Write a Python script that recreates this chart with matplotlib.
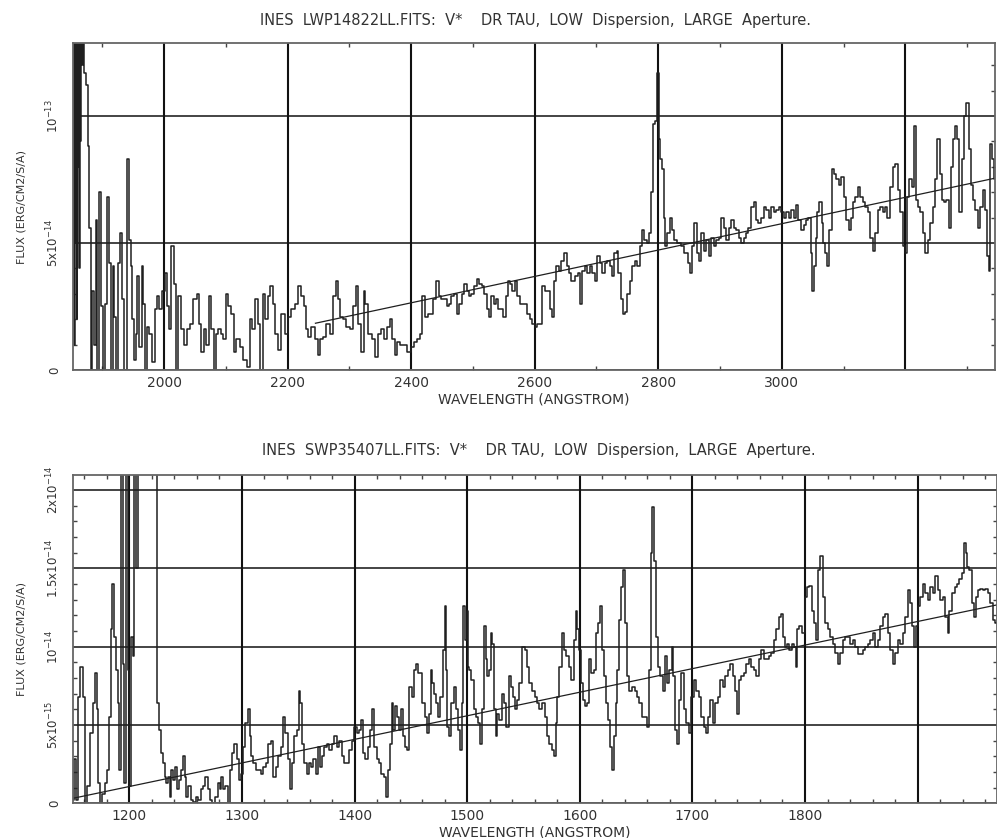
import numpy as np
import matplotlib
matplotlib.use("Agg")
import matplotlib.pyplot as plt
from matplotlib.ticker import FixedLocator, FixedFormatter, MultipleLocator

# ---- LWP14822LL : wavelength (A) and flux (units of 1e-14 erg/cm2/s/A)
lwp_wl = [1852, 1853, 1854, 1855, 1856, 1857, 1858, 1859, 1860, 1861,
          1862, 1863, 1864, 1865, 1866, 1867, 1869, 1871,
          1875, 1877, 1880, 1882, 1885, 1888, 1891, 1893, 1896, 1899,
          1902, 1906, 1908, 1912, 1915, 1918, 1920, 1924, 1927, 1931,
          1934, 1937, 1942, 1945, 1947, 1950, 1953, 1955, 1958, 1962,
          1965, 1967, 1971, 1974, 1978, 1982, 1987, 1991, 1994, 1999,
          2003, 2007, 2009, 2014, 2017, 2020, 2026, 2030, 2034, 2039,
          2044, 2050, 2055, 2059, 2062, 2066, 2070, 2074, 2078, 2082,
          2086, 2090, 2094, 2098, 2102, 2106, 2111, 2114, 2120, 2125,
          2131, 2136, 2141, 2145, 2149, 2154, 2158, 2161, 2166, 2170,
          2174, 2178, 2182, 2187, 2193, 2198, 2203, 2209, 2214, 2220,
          2224, 2228, 2231, 2236, 2241, 2246, 2251, 2255, 2260, 2265,
          2271, 2276, 2279, 2283, 2287, 2292, 2298, 2303, 2308, 2312,
          2317, 2321, 2325, 2327, 2332, 2335, 2339, 2344, 2349, 2354,
          2359, 2362, 2368, 2371, 2375, 2380, 2385, 2391, 2396, 2402,
          2407, 2412, 2416, 2420, 2424, 2429, 2434, 2438, 2443, 2447,
          2451, 2456, 2459, 2463, 2467, 2472, 2475, 2479, 2484, 2488,
          2492, 2495, 2500, 2504, 2508, 2512, 2516, 2520, 2524, 2528,
          2532, 2535, 2539, 2543, 2547, 2551, 2555, 2558, 2562, 2566,
          2570, 2574, 2578, 2582, 2586, 2590, 2594, 2598, 2602, 2606,
          2610, 2614, 2618, 2623, 2626, 2630, 2633, 2637, 2641, 2645,
          2650, 2653, 2657, 2660, 2664, 2668, 2672, 2675, 2679, 2683,
          2687, 2691, 2695, 2699, 2703, 2707, 2711, 2715, 2720, 2723,
          2727, 2731, 2734, 2737, 2741, 2745, 2748, 2752, 2756, 2760,
          2764, 2768, 2772, 2775, 2779, 2783, 2786, 2790, 2793, 2796,
          2799, 2802, 2804, 2807, 2810, 2812, 2817, 2820, 2824, 2828,
          2834, 2839, 2845, 2850, 2853, 2857, 2860, 2864, 2867, 2872,
          2876, 2880, 2883, 2888, 2892, 2896, 2900, 2904, 2908, 2912,
          2916, 2920, 2924, 2928, 2932, 2936, 2941, 2944, 2948, 2952,
          2957, 2960, 2964, 2969, 2973, 2977, 2980, 2985, 2989, 2993,
          2997, 3001, 3005, 3009, 3013, 3017, 3021, 3025, 3029, 3033,
          3038, 3041, 3045, 3048, 3051, 3054, 3056, 3059, 3063, 3066,
          3068, 3072, 3075, 3079, 3082, 3086, 3090, 3094, 3098, 3102,
          3106, 3110, 3113, 3117, 3121, 3125, 3129, 3133, 3137, 3141,
          3145, 3149, 3153, 3157, 3162, 3165, 3169, 3173, 3178, 3182,
          3185, 3190, 3194, 3198, 3200, 3205, 3208, 3212, 3215, 3218,
          3222, 3226, 3230, 3234, 3238, 3242, 3246, 3250, 3254, 3257,
          3261, 3264, 3268, 3272, 3275, 3279, 3281, 3286, 3289, 3293,
          3297, 3301, 3304, 3307, 3311, 3315, 3319, 3323, 3327, 3331,
          3334, 3336, 3339, 3342, 3345]
lwp_flux = [14, 3, 14, 1, 14, 5, 14, 2, 14, 8,
            14, 4, 14, 9, 14, 12, 14, 11.7,
            11.2, 8.8, 5.6, 0, 3.1, 1.0, 5.9, 0, 7.0, 2.5,
            0, 2.6, 6.8, 4.2, 0, 4.1, 2.1, 0, 4.2, 5.4,
            2.8, 0, 8.3, 5.1, 4.1, 2.0, 0.4, 1.4, 3.7, 0.9,
            4.1, 2.6, 0, 1.7, 1.4, 0.3, 2.4, 2.9, 2.4, 3.1,
            3.8, 2.5, 1.6, 4.9, 3.4, 0, 2.9, 1.6, 1.0, 1.6,
            1.8, 2.8, 3.0, 1.8, 0.7, 1.6, 1.0, 2.9, 1.6, 0,
            1.4, 1.6, 1.4, 1.2, 3.0, 2.5, 2.2, 0.7, 1.2, 0.9,
            0.4, 0.1, 2.0, 1.6, 2.8, 1.8, 0, 3.0, 2.0, 2.9,
            3.3, 2.6, 1.4, 0.8, 2.2, 1.4, 2.1, 2.4, 2.6, 3.3,
            2.9, 2.5, 1.6, 1.3, 1.7, 1.2, 0.6, 1.2, 1.3, 1.8,
            1.4, 2.9, 3.5, 2.8, 2.1, 2.0, 1.7, 1.6, 2.5, 3.3,
            1.8, 0.7, 3.1, 2.6, 1.4, 1.4, 1.2, 0.5, 1.4, 1.6,
            1.2, 1.7, 2.0, 1.2, 0.6, 1.1, 1.0, 1.0, 0.7, 0.9,
            1.1, 1.2, 1.4, 2.9, 2.1, 2.2, 2.2, 2.8, 3.5, 2.9,
            2.8, 2.8, 2.5, 2.6, 2.9, 3.0, 2.2, 2.6, 3.0, 3.4,
            3.1, 2.9, 3.0, 3.3, 3.6, 3.4, 3.3, 3.0, 2.4, 2.1,
            2.9, 2.6, 2.8, 2.4, 2.4, 2.1, 2.9, 3.5, 3.4, 3.1,
            3.5, 2.9, 2.6, 2.6, 2.6, 2.2, 2.0, 1.8, 1.7, 1.8,
            1.8, 3.3, 3.1, 3.1, 2.4, 2.1, 3.5, 4.1, 3.9, 4.3,
            4.6, 4.1, 3.8, 3.5, 3.5, 3.7, 3.8, 2.6, 3.9, 4.1,
            3.8, 4.1, 3.8, 3.5, 4.5, 4.2, 3.8, 4.2, 4.3, 4.1,
            3.7, 4.6, 4.7, 3.8, 2.8, 2.2, 2.3, 3.0, 3.5, 4.1,
            4.3, 4.1, 4.9, 5.5, 5.1, 5.0, 5.4, 7.0, 9.7, 9.8,
            11.7, 9.1, 8.3, 7.9, 6.0, 4.9, 5.4, 6.0, 5.5, 5.1,
            5.0, 4.9, 4.6, 4.2, 3.8, 4.9, 5.8, 4.6, 4.3, 5.4,
            4.7, 5.1, 4.5, 5.2, 4.9, 5.1, 5.2, 6.0, 5.6, 5.1,
            5.6, 5.9, 5.6, 5.5, 5.2, 5.0, 5.2, 5.4, 5.6, 6.4,
            6.6, 5.9, 5.8, 6.0, 6.4, 6.3, 6.0, 6.4, 6.2, 6.3,
            6.4, 6.2, 6.0, 6.2, 6.0, 6.3, 6.0, 6.5, 5.9, 5.5,
            5.7, 5.9, 6.0, 4.6, 3.1, 4.1, 5.2, 6.2, 6.6, 5.8,
            5.0, 4.6, 4.1, 5.5, 7.9, 7.7, 7.5, 7.3, 7.6, 6.8,
            5.9, 5.5, 6.0, 6.6, 6.8, 7.2, 6.8, 6.6, 6.4, 6.2,
            5.2, 4.7, 5.4, 6.3, 6.4, 6.2, 6.4, 6.0, 7.2, 8.0,
            8.1, 7.1, 6.2, 4.9, 4.6, 6.8, 7.5, 7.2, 9.6, 6.7,
            6.4, 6.2, 5.4, 4.6, 5.1, 5.8, 6.4, 7.5, 9.1, 7.7,
            6.7, 6.6, 6.7, 5.6, 8.0, 9.1, 9.6, 9.1, 6.2, 8.3,
            10.0, 10.5, 8.7, 7.3, 6.7, 6.3, 5.6, 6.4, 7.1, 6.3,
            4.5, 3.9, 8.9, 8.3, 7.5]
# continuum fit drawn over the LWP spectrum (end points)
lwp_fit_wl = [2245, 3345]
lwp_fit_flux = [1.84, 7.55]

# ---- SWP35407LL : wavelength (A) and flux (units of 1e-15 erg/cm2/s/A)
swp_wl = [1150, 1152, 1153.5, 1155, 1157.7, 1159.5, 1161, 1163.6, 1166.5, 1168.6,
          1170.4, 1171.6, 1173.3, 1175.4, 1176.9, 1179.3, 1181.4, 1182.8, 1184.3, 1185.8,
          1187.3, 1188.8, 1190.2, 1191.7, 1193.2, 1194.7, 1196.2, 1197.7, 1199.2, 1200.7,
          1202.2, 1203.6, 1205.1, 1206.6, 1208, 1212, 1216, 1220, 1224, 1225.5,
          1227.6, 1229, 1230.6, 1232, 1233.5, 1235, 1236.5, 1238, 1239.5, 1241,
          1243, 1244.8, 1246.9, 1248.2, 1249.8, 1251.2, 1253.6, 1255.7, 1257.8, 1260,
          1262.5, 1264.6, 1266.7, 1268.4, 1270.5, 1272.6, 1274.9, 1277.3, 1279.4, 1280.9,
          1282.4, 1284.4, 1286.2, 1288.3, 1290.3, 1292.2, 1294.2, 1296.3, 1298.1, 1300.1,
          1302.2, 1304.0, 1306.0, 1307.5, 1309.0, 1311.1, 1313.5, 1315.8, 1317.9, 1320,
          1322.4, 1324.7, 1326.8, 1328.8, 1331.2, 1333.6, 1335.6, 1337.7, 1339.5, 1341.6,
          1343.6, 1345.4, 1347.5, 1349.6, 1351.3, 1352.5, 1354.3, 1356.4, 1358.5, 1360.3,
          1362.3, 1364.4, 1366.8, 1369.1, 1370.3, 1372.1, 1374.2, 1376.2, 1378.6, 1381,
          1383.1, 1385.2, 1387.5, 1389.9, 1392, 1394, 1396.4, 1398.8, 1400.8, 1402.9,
          1404.7, 1406.8, 1408.8, 1410.6, 1412.7, 1414.8, 1416.5, 1418.6, 1420.7, 1422.5,
          1424.9, 1427, 1429, 1430.8, 1432, 1433.7, 1434.9, 1436.7, 1438.8, 1440.3,
          1441.7, 1443.8, 1445.6, 1447.7, 1449.7, 1451.5, 1453.6, 1455.6, 1457.4, 1459.5,
          1461, 1463.3, 1465.4, 1466.9, 1468.4, 1469.9, 1471.3, 1473.4, 1475.2, 1477.3,
          1479.3, 1480.5, 1481.7, 1483.2, 1484.6, 1487, 1489.1, 1491.2, 1492.9, 1494.1,
          1495.9, 1497.1, 1498.9, 1500, 1501, 1502.4, 1504.8, 1506.8, 1508.9, 1510.7,
          1512.8, 1514.2, 1515.7, 1517.2, 1518.7, 1520.2, 1521.6, 1523.1, 1524.6, 1526.1,
          1527.6, 1529.6, 1531.4, 1533.5, 1535.6, 1537.9, 1539.4, 1541.5, 1543.2, 1545.3,
          1547.4, 1549.8, 1552.1, 1554.2, 1556.3, 1558.6, 1561, 1563.1, 1565.1, 1567.5,
          1569.9, 1572, 1574, 1575.8, 1577.9, 1579.4, 1580.8, 1582.9, 1584.7, 1586.8,
          1588.8, 1591.2, 1593.6, 1595.6, 1597.1, 1598.6, 1600.1, 1601.5, 1603.6, 1605.4,
          1607.5, 1609.5, 1611.3, 1613.4, 1615.5, 1617.2, 1619.3, 1620.8, 1622.3, 1623.7,
          1626.1, 1628.2, 1629.7, 1631.1, 1632.6, 1634.1, 1635.6, 1637.1, 1639.1, 1640.9,
          1643, 1645.1, 1647.4, 1649.8, 1651.9, 1654, 1656.3, 1658.7, 1660.7, 1662.2,
          1663.7, 1665.2, 1666.7, 1668.1, 1670.5, 1672.6, 1674.6, 1676.4, 1678.5, 1680.6,
          1682.3, 1683.5, 1685.3, 1686.5, 1688.9, 1691.3, 1693.3, 1695.4, 1697.8, 1700.1,
          1702.2, 1704.3, 1706.7, 1709, 1711.1, 1713.2, 1714.9, 1717, 1719.1, 1721.5,
          1723.8, 1725.9, 1728, 1730.3, 1732.7, 1734.8, 1736.8, 1739.2, 1740.7, 1742.2,
          1744.5, 1746.6, 1748.7, 1751, 1753.4, 1755.5, 1757.6, 1759.9, 1762.3, 1764.4,
          1766.4, 1768.8, 1771.2, 1773.2, 1775.3, 1777.7, 1779.2, 1781.2, 1783, 1785.1,
          1787.2, 1789.5, 1791, 1792.5, 1794, 1796, 1798.4, 1800.8, 1802.8, 1804.9,
          1806.7, 1808.8, 1810.8, 1812.6, 1814.7, 1816.7, 1819.1, 1821.5, 1823.6, 1825.6,
          1828, 1830.4, 1832.4, 1834.5, 1836.9, 1839.2, 1841.3, 1843.4, 1845.7, 1848.1,
          1850.2, 1852.3, 1854.6, 1857, 1859.1, 1861.1, 1863.5, 1865.9, 1867.9, 1870,
          1872.4, 1874.7, 1876.8, 1878.9, 1881.3, 1883.6, 1885.7, 1887.8, 1890.1, 1892.5,
          1893.7, 1895.5, 1897.5, 1899.6, 1901.4, 1903.5, 1905.5, 1907.9, 1910.3, 1912.3,
          1914.4, 1916.8, 1919.1, 1921.2, 1923.3, 1925.7, 1927.4, 1929.2, 1931.6, 1933.9,
          1936, 1938.1, 1940.5, 1941.9, 1943.4, 1944.9, 1947, 1948.8, 1950.8, 1952.9,
          1954.7, 1956.7, 1958.8, 1961.2, 1963.5, 1965.6, 1967.7, 1970]
swp_flux = [0.2, 2.8, 0.2, 6.8, 8.7, 6.8, 0, 1.1, 4.5, 6.4,
            8.3, 6.0, 1.3, 0, 0.6, 1.3, 2.1, 5.5, 11.1, 14.0,
            10.6, 8.5, 6.4, 2.1, 23, 8.9, 1.3, 23, 8.5, 1.1,
            10.6, 9.4, 23, 15.0, 23, 23, 23, 23, 23, 6.4,
            4.7, 3.2, 2.6, 1.7, 1.3, 1.7, 0.4, 2.1, 1.5, 2.3,
            0.9, 1.5, 2.1, 3.0, 1.7, 0.4, 1.1, 0.2, 0.1, 0.4,
            0.2, 0.9, 1.1, 1.7, 0.9, 0.2, 0, 0.4, 1.3, 0.9,
            1.7, 0.9, 1.1, 0, 2.1, 3.2, 3.8, 2.8, 1.5, 1.9,
            3.6, 5.1, 6.0, 4.3, 3.0, 2.6, 2.1, 2.1, 1.9, 2.3,
            2.6, 3.8, 4.0, 1.7, 2.3, 3.0, 3.6, 5.5, 4.5, 2.8,
            0.9, 2.6, 4.3, 4.7, 7.2, 6.4, 3.8, 2.6, 1.9, 2.6,
            2.3, 2.8, 1.9, 3.6, 2.3, 3.0, 3.6, 3.8, 3.4, 3.8,
            4.3, 3.6, 4.0, 3.0, 2.6, 2.6, 3.4, 4.0, 4.9, 4.5,
            4.7, 5.3, 3.2, 2.8, 3.6, 4.7, 6.0, 3.6, 2.8, 2.6,
            1.9, 1.7, 0.4, 2.1, 3.8, 6.4, 4.7, 6.2, 5.5, 4.7,
            6.0, 4.3, 3.6, 3.4, 7.4, 6.8, 8.5, 8.9, 8.3, 8.3,
            6.4, 5.5, 4.5, 5.7, 8.5, 7.7, 7.0, 6.4, 5.5, 6.8,
            9.8, 12.6, 8.5, 4.9, 4.3, 6.4, 7.4, 6.0, 4.7, 3.4,
            6.4, 12.6, 10.4, 12.3, 8.7, 8.5, 7.9, 6.0, 5.5, 5.1,
            3.8, 6.0, 11.3, 9.2, 8.1, 8.5, 10.9, 10.2, 6.0, 4.3,
            5.7, 5.3, 7.0, 6.4, 4.9, 8.1, 7.4, 6.8, 6.0, 6.6,
            7.7, 10.0, 9.8, 8.7, 7.7, 7.2, 6.8, 6.4, 6.0, 6.4,
            5.5, 4.3, 3.8, 3.4, 3.0, 5.1, 6.8, 8.7, 10.9, 9.8,
            9.4, 8.7, 7.9, 10.4, 12.3, 11.1, 9.8, 7.7, 6.6, 6.2,
            6.4, 9.2, 8.3, 8.5, 10.9, 11.5, 12.6, 9.8, 8.1, 6.4,
            5.3, 3.6, 2.1, 4.3, 6.4, 8.5, 11.7, 13.8, 14.9, 11.5,
            8.1, 7.2, 7.4, 7.2, 6.8, 6.4, 5.5, 5.5, 4.9, 8.5,
            16.0, 18.9, 15.5, 10.6, 8.7, 8.1, 7.2, 9.4, 7.7, 8.5,
            10.0, 8.1, 4.7, 3.8, 6.6, 8.3, 6.0, 5.1, 4.5, 6.8,
            7.9, 7.2, 6.8, 5.5, 4.9, 4.5, 5.5, 6.6, 5.1, 6.4,
            6.8, 7.9, 7.4, 8.1, 8.5, 8.9, 8.1, 7.2, 5.7, 7.9,
            8.1, 8.3, 8.9, 9.2, 8.7, 8.5, 8.1, 9.2, 9.8, 9.2,
            9.2, 9.4, 9.6, 10.4, 11.1, 11.9, 12.1, 10.6, 10.0, 10.2,
            9.8, 10.2, 10.0, 8.7, 11.1, 11.3, 10.9, 13.2, 13.8, 13.9,
            12.3, 11.5, 10.4, 14.9, 15.8, 13.2, 11.5, 11.1, 10.6, 10.2,
            9.6, 8.9, 9.6, 10.4, 10.6, 10.6, 10.2, 10.4, 10.0, 9.5,
            9.5, 9.8, 10.0, 10.2, 10.4, 10.9, 10.0, 10.4, 11.3, 11.9,
            12.1, 10.9, 9.8, 8.9, 9.6, 10.4, 10.2, 10.9, 11.9, 13.6,
            12.8, 11.3, 10.0, 11.3, 12.6, 13.2, 14.0, 13.4, 13.0, 13.8,
            13.4, 14.5, 13.6, 13.0, 13.2, 11.9, 10.9, 12.3, 13.4, 13.8,
            14.0, 14.3, 14.7, 16.6, 16.0, 15.1, 14.9, 12.8, 11.9, 13.2,
            13.6, 13.7, 13.6, 13.7, 13.4, 12.8, 11.7, 11.5]
swp_fit_wl = [1150, 1970]
swp_fit_flux = [0.32, 12.66]

ink = "#1f1f1f"
txt = "#333333"
title_font = dict(fontsize=10.5, color=txt, family="DejaVu Sans")


def style_axis(ax, xmajor, xlabels, xminor, ymajor, ylabels, yminor, ylim_top, xlim):
    ax.set_xlim(*xlim)
    ax.set_ylim(0, ylim_top)
    ax.xaxis.set_major_locator(FixedLocator(xmajor))
    ax.xaxis.set_major_formatter(FixedFormatter(xlabels))
    ax.xaxis.set_minor_locator(MultipleLocator(xminor))
    ax.yaxis.set_major_locator(FixedLocator(ymajor))
    ax.yaxis.set_major_formatter(FixedFormatter(ylabels))
    ax.yaxis.set_minor_locator(MultipleLocator(yminor))
    ax.tick_params(which="both", direction="in", top=True, right=True,
                   colors="#444444", labelcolor=txt)
    ax.tick_params(which="major", length=0)
    ax.tick_params(which="minor", length=3, width=1.0)
    ax.tick_params(axis="x", which="major", pad=4, labelsize=10)
    ax.tick_params(axis="y", which="major", pad=8, labelsize=8.5, labelrotation=90)
    for lab in ax.get_yticklabels():
        lab.set_va("center")
    ax.grid(True, axis="x", which="major", color="#111111", lw=1.5)
    ax.grid(True, axis="y", which="major", color="#111111", lw=1.1)
    for sp in ax.spines.values():
        sp.set_color("#666666")
        sp.set_linewidth(1.3)
    ax.set_xlabel("WAVELENGTH (ANGSTROM)", fontsize=10, color=txt, labelpad=2)
    ax.set_ylabel("FLUX (ERG/CM2/S/A)", fontsize=8, color=txt)
    ax.yaxis.set_label_coords(-0.05, 0.5)


fig = plt.figure(figsize=(9.97, 8.38), dpi=100)

# top panel: LWP
ax1 = fig.add_axes([0.0729, 0.5585, 0.925, 0.3898])
ax1.plot(lwp_wl, np.array(lwp_flux) * 1e-14, drawstyle="steps-mid", color=ink, lw=1.1)
ax1.plot(lwp_fit_wl, np.array(lwp_fit_flux) * 1e-14, color=ink, lw=0.9)
style_axis(ax1,
           [2000, 2200, 2400, 2600, 2800, 3000, 3200],
           ["2000", "2200", "2400", "2600", "2800", "3000", ""], 100,
           [0, 5e-14, 1e-13],
           ["0", r"5x10$^{-14}$", r"10$^{-13}$"], 1e-14,
           1.286e-13, (1852, 3345))
fig.text(0.537, 0.976, "INES  LWP14822LL.FITS:  V*    DR TAU,  LOW  Dispersion,  LARGE  Aperture.",
         ha="center", va="center", **title_font)

# bottom panel: SWP
ax2 = fig.add_axes([0.0729, 0.0414, 0.927, 0.3918])
ax2.plot(swp_wl, np.array(swp_flux) * 1e-15, drawstyle="steps-mid", color=ink, lw=1.1)
ax2.plot(swp_fit_wl, np.array(swp_fit_flux) * 1e-15, color=ink, lw=0.9)
style_axis(ax2,
           [1200, 1300, 1400, 1500, 1600, 1700, 1800, 1900],
           ["1200", "1300", "1400", "1500", "1600", "1700", "1800", ""], 20,
           [0, 5e-15, 1e-14, 1.5e-14, 2e-14],
           ["0", r"5x10$^{-15}$", r"10$^{-14}$", r"1.5x10$^{-14}$", r"2x10$^{-14}$"], 1e-15,
           2.096e-14, (1149.7, 1970.4))
fig.text(0.54, 0.462, "INES  SWP35407LL.FITS:  V*    DR TAU,  LOW  Dispersion,  LARGE  Aperture.",
         ha="center", va="center", **title_font)

fig.savefig("out.png", dpi=100)
